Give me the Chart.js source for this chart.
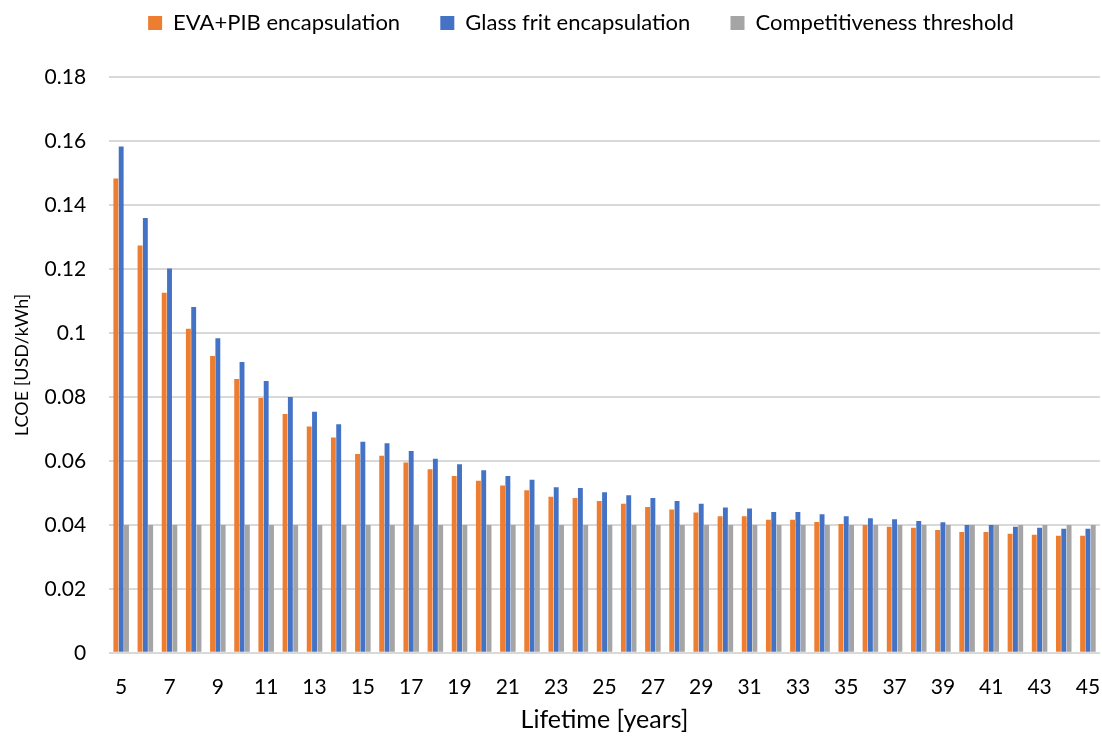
<!DOCTYPE html>
<html lang="en">
<head>
    <meta charset="UTF-8">
    <title>LCOE vs lifetime</title>
    <script src="https://cdn.jsdelivr.net/npm/chart.js"></script>
    <style>
        body { margin: 0; background: #fff; }
        #wrap { width: 1102px; height: 738px; }
    </style>
</head>
<body>
    <div id="wrap">
        <canvas id="grafico" width="1102" height="738"></canvas>
    </div>

    <script>
        // lifetime in years, 5 .. 45
        const anos = [5,6,7,8,9,10,11,12,13,14,15,16,17,18,19,20,21,22,23,24,25,
                      26,27,28,29,30,31,32,33,34,35,36,37,38,39,40,41,42,43,44,45]

        const evaPib = [0.1483,0.1274,0.1126,0.1013,0.0928,0.0856,0.0797,0.0747,0.0708,0.0673,
                        0.0622,0.0616,0.0595,0.0574,0.0553,0.0538,0.0523,0.0508,0.0488,0.0484,
                        0.0475,0.0466,0.0456,0.0448,0.0439,0.0427,0.0427,0.0416,0.0416,0.0409,
                        0.0403,0.0400,0.0394,0.0391,0.0384,0.0378,0.0378,0.0372,0.0369,0.0366,0.0366]

        const glassFrit = [0.1583,0.1360,0.1202,0.1081,0.0984,0.0909,0.0850,0.0800,0.0754,0.0715,
                           0.0660,0.0655,0.0631,0.0607,0.0590,0.0571,0.0553,0.0541,0.0518,0.0515,
                           0.0502,0.0493,0.0484,0.0475,0.0466,0.0454,0.0451,0.0440,0.0440,0.0433,
                           0.0427,0.0421,0.0418,0.0412,0.0408,0.0400,0.0400,0.0394,0.0391,0.0388,0.0388]

        const limite = anos.map(() => 0.04)

        const fonte = 'Lato, "Open Sans", sans-serif'

        // move the legend a bit to the right, like the original
        const ajusteLegenda = {
            id: 'ajusteLegenda',
            beforeDraw(chart) {
                chart.legend.left += 58
            }
        }

        const ctx = document.getElementById('grafico')
        new Chart(ctx, {
            type: 'bar',
            data: {
                labels: anos,
                datasets: [
                    { label: 'EVA+PIB encapsulation', data: evaPib, backgroundColor: '#ED7D31' },
                    { label: 'Glass frit encapsulation', data: glassFrit, backgroundColor: '#4472C4' },
                    { label: 'Competitiveness threshold', data: limite, backgroundColor: '#A5A5A5' }
                ]
            },
            plugins: [ajusteLegenda],
            options: {
                responsive: false,
                animation: false,
                events: [],
                layout: { padding: { left: 4, right: 2, top: 0, bottom: 0 } },
                datasets: { bar: { categoryPercentage: 0.66, barPercentage: 0.92 } },
                plugins: {
                    tooltip: { enabled: false },
                    // empty title used only as a spacer between legend and plot
                    title: {
                        display: true,
                        text: '',
                        weight: 500,
                        font: { size: 1 },
                        padding: { top: 0, bottom: 32 }
                    },
                    legend: {
                        position: 'top',
                        labels: {
                            font: { family: fonte, size: 22 },
                            color: '#000',
                            boxWidth: 14,
                            boxHeight: 14,
                            padding: 12,
                            generateLabels: function (chart) {
                                const itens = Chart.defaults.plugins.legend.labels.generateLabels(chart)
                                itens.forEach((it, i) => {
                                    if (i < itens.length - 1) it.text = it.text + '     '
                                })
                                return itens
                            }
                        }
                    }
                },
                scales: {
                    x: {
                        grid: { display: false, drawTicks: false },
                        border: { display: false },
                        ticks: {
                            autoSkip: false,
                            maxRotation: 0,
                            padding: 22,
                            color: '#000',
                            font: { family: fonte, size: 21 },
                            callback: function (v, i) { return i % 2 === 0 ? anos[i] : '' }
                        },
                        title: {
                            display: true,
                            text: 'Lifetime [years]',
                            color: '#000',
                            font: { family: fonte, size: 25 },
                            padding: { top: 5, bottom: 3 }
                        },
                        afterFit(scale) {
                            scale.height -= 22
                            scale.paddingLeft = 0
                            scale.paddingRight = 0
                        }
                    },
                    y: {
                        min: 0,
                        max: 0.18,
                        grid: { color: '#D9D9D9', lineWidth: 2, drawTicks: false },
                        border: { display: false },
                        ticks: {
                            stepSize: 0.02,
                            padding: 23,
                            color: '#000',
                            font: { family: fonte, size: 21 },
                            callback: v => +v.toFixed(2)
                        },
                        title: {
                            display: true,
                            text: 'LCOE [USD/kWh]',
                            color: '#000',
                            font: { family: fonte, size: 18 },
                            padding: { top: 7, bottom: 12 }
                        },
                        afterFit(scale) {
                            scale.width -= 23
                        }
                    }
                }
            }
        })
    </script>
</body>
</html>
